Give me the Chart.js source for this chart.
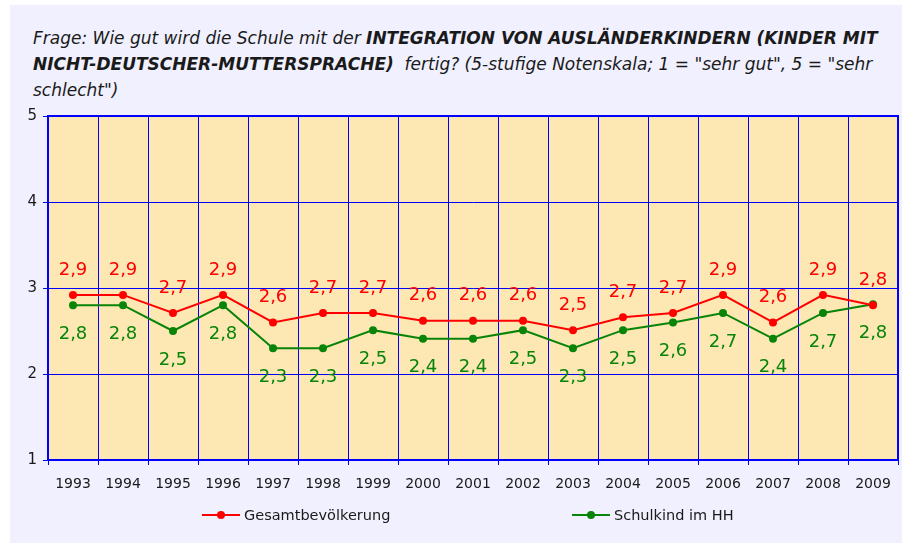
<!DOCTYPE html>
<html>
<head>
<meta charset="utf-8">
<script src="https://cdn.jsdelivr.net/npm/chart.js@4/dist/chart.umd.min.js"></script>
<style>
    html, body { margin: 0; padding: 0; background: #ffffff; }
    #wrap { position: relative; width: 902px; height: 543px; overflow: hidden; }
    #panel { position: absolute; left: 10px; top: 5px; right: 0; bottom: 0; background: #f0f0fe; }
    #title {
        position: absolute; left: 33px; top: 25px; width: 865px;
        font-family: "DejaVu Sans", Verdana, sans-serif; font-style: italic;
        font-size: 17px; line-height: 26px; color: #1a1a1a;
    }
    #title b { font-weight: bold; }
    #chart { position: absolute; left: 0; top: 0; }
</style>
</head>
<body>
<div id="wrap">
    <div id="panel"></div>
    <div id="title">Frage: Wie gut wird die Schule mit der <b>INTEGRATION VON AUSLÄNDERKINDERN (KINDER MIT NICHT-DEUTSCHER-MUTTERSPRACHE)</b>&nbsp; fertig? (5-stufige Notenskala; 1 = "sehr gut", 5 = "sehr schlecht")</div>
    <canvas id="chart" width="902" height="543"></canvas>
</div>
<script>
const years = ['1993', '1994', '1995', '1996', '1997', '1998', '1999', '2000', '2001',
    '2002', '2003', '2004', '2005', '2006', '2007', '2008', '2009'];
const gesamt = [2.92, 2.92, 2.71, 2.92, 2.60, 2.71, 2.71, 2.62, 2.62, 2.62, 2.51, 2.66, 2.71, 2.92, 2.60, 2.92, 2.80];
const schulkind = [2.80, 2.80, 2.50, 2.80, 2.30, 2.30, 2.51, 2.41, 2.41, 2.51, 2.30, 2.51, 2.60, 2.71, 2.41, 2.71, 2.81];
const yTicks = [1, 2, 3, 4, 5];

const RED = '#ff0000';
const GREEN = '#088408';
const BLUE = '#0000ff';

// plot background + frame
const plotFrame = {
    id: 'plotFrame',
    beforeDraw(chart) {
        const { ctx, chartArea: a } = chart;
        ctx.save();
        ctx.fillStyle = '#fde8b3';
        ctx.fillRect(a.left, a.top, a.right - a.left, a.bottom - a.top);
        ctx.restore();
    },
    beforeDatasetsDraw(chart) {
        const { ctx, chartArea: a } = chart;
        ctx.save();
        ctx.strokeStyle = BLUE;
        ctx.lineWidth = 2;
        ctx.strokeRect(a.left, a.top, a.right - a.left, a.bottom - a.top);
        ctx.restore();
    }
};

// value labels above (red) / below (green) each point
const valueLabels = {
    id: 'valueLabels',
    afterDatasetsDraw(chart) {
        const { ctx } = chart;
        ctx.save();
        ctx.font = '18px "DejaVu Sans", sans-serif';
        ctx.textAlign = 'center';
        ctx.textBaseline = 'middle';
        chart.data.datasets.forEach((ds, i) => {
            const meta = chart.getDatasetMeta(i);
            ctx.fillStyle = ds.borderColor;
            meta.data.forEach((pt, j) => {
                const txt = ds.data[j].toFixed(1).replace('.', ',');
                const dy = ds.labelPos === 'above' ? -25 : 29;
                ctx.fillText(txt, pt.x, pt.y + dy);
            });
        });
        ctx.restore();
    }
};

// legend: line with dot, like the original
const lineLegend = {
    id: 'lineLegend',
    afterDraw(chart) {
        const { ctx } = chart;
        const items = [{ x: 202 }, { x: 572 }];
        ctx.save();
        ctx.font = '14.5px "DejaVu Sans", sans-serif';
        ctx.textBaseline = 'middle';
        chart.data.datasets.forEach((ds, i) => {
            const x = items[i].x, y = 515;
            ctx.strokeStyle = ds.borderColor;
            ctx.fillStyle = ds.borderColor;
            ctx.lineWidth = 2;
            ctx.beginPath();
            ctx.moveTo(x, y);
            ctx.lineTo(x + 38, y);
            ctx.stroke();
            ctx.beginPath();
            ctx.arc(x + 19, y, 4, 0, Math.PI * 2);
            ctx.fill();
            ctx.fillStyle = '#1a1a1a';
            ctx.fillText(ds.label, x + 42, y + 1);
        });
        ctx.restore();
    }
};

new Chart(document.getElementById('chart'), {
    type: 'line',
    data: {
        labels: years,
        datasets: [{
            label: 'Gesamtbevölkerung',
            data: gesamt,
            borderColor: RED,
            backgroundColor: RED,
            labelPos: 'above',
            borderWidth: 2,
            pointRadius: 4,
            pointBorderWidth: 0,
            tension: 0
        }, {
            label: 'Schulkind im HH',
            data: schulkind,
            borderColor: GREEN,
            backgroundColor: GREEN,
            labelPos: 'below',
            borderWidth: 2,
            pointRadius: 4,
            pointBorderWidth: 0,
            tension: 0
        }]
    },
    options: {
        responsive: false,
        animation: false,
        layout: { padding: { left: 10, top: 116, right: 4, bottom: 0 } },
        plugins: {
            legend: { display: false },
            title: { display: false },
            tooltip: { enabled: false }
        },
        scales: {
            x: {
                offset: true,
                grid: { offset: true, color: BLUE, lineWidth: 1, tickLength: 5, drawTicks: true },
                border: { color: BLUE, width: 2 },
                ticks: { color: '#1a1a1a', font: { family: 'DejaVu Sans', size: 14 }, padding: 11, maxRotation: 0 },
                afterFit: (s) => { s.height = 83; }
            },
            y: {
                min: 1,
                max: 5,
                afterBuildTicks: (s) => { s.ticks = yTicks.map(v => ({ value: v })); },
                grid: { color: BLUE, lineWidth: 1, tickLength: 5 },
                border: { color: BLUE, width: 2 },
                ticks: { color: '#1a1a1a', font: { family: 'DejaVu Sans', size: 15 }, padding: 6 },
                afterFit: (s) => { s.width = 38; }
            }
        }
    },
    plugins: [plotFrame, valueLabels, lineLegend]
});
</script>
</body>
</html>
